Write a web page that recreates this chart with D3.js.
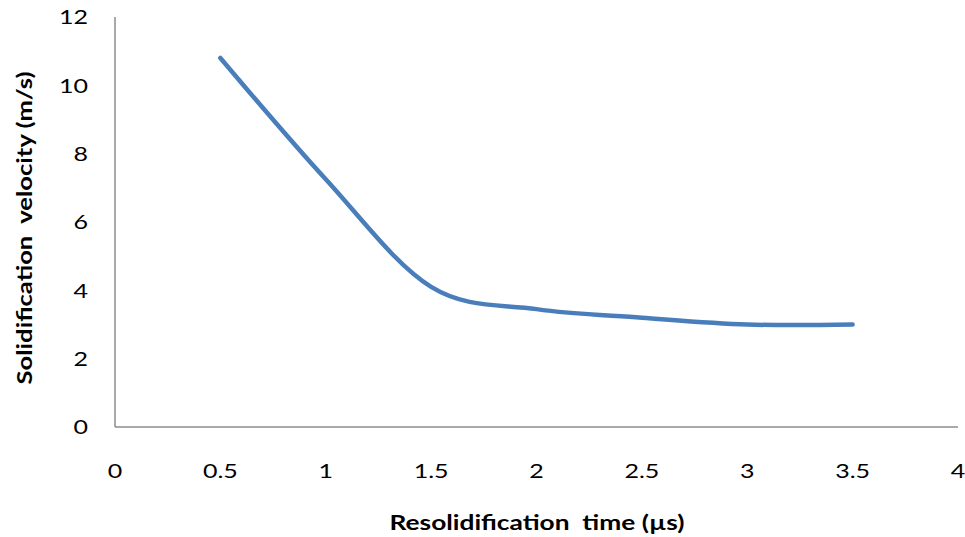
<!DOCTYPE html>
<html>
<head>
<meta charset="utf-8">
<script src="https://cdn.jsdelivr.net/npm/d3@7"></script>
<style>
  body { margin: 0; background: #fff; }
  text { font-family: Lato, "Open Sans", sans-serif; fill: #000; }
</style>
</head>
<body>
<div id="chart"></div>
<script>
var width = 965,
    height = 537;

// data
var times = [0.5, 1, 1.5, 2, 2.5, 3, 3.5];
var velocities = [10.8, 7.25, 4.1, 3.45, 3.2, 3.0, 3.0];
var xTicks = [0, 0.5, 1, 1.5, 2, 2.5, 3, 3.5, 4];
var yTicks = [0, 2, 4, 6, 8, 10, 12];

var svg = d3.select("#chart").append("svg")
    .attr("width", width)
    .attr("height", height);

var x = d3.scaleLinear().domain([0, 4]).range([115, 958]);
var y = d3.scaleLinear().domain([0, 12]).range([427, 17]);

// axis lines
svg.append("line")
    .attr("x1", x(0)).attr("x2", x(0))
    .attr("y1", y(12)).attr("y2", y(0))
    .attr("stroke", "#8c8c8c").attr("stroke-width", 1.5);
svg.append("line")
    .attr("x1", x(0)).attr("x2", x(4))
    .attr("y1", y(0)).attr("y2", y(0))
    .attr("stroke", "#8c8c8c").attr("stroke-width", 1.5);

// tick labels (reference glyphs are a bit wide, so stretch them)
svg.selectAll(".ylab")
    .data(yTicks)
  .enter().append("text")
    .attr("class", "ylab")
    .attr("transform", function(d) { return "translate(88," + y(d) + ") scale(1.25,1)"; })
    .attr("dy", "0.36em")
    .attr("text-anchor", "end")
    .style("font-size", "20px")
    .text(function(d) { return d; });

svg.selectAll(".xlab")
    .data(xTicks)
  .enter().append("text")
    .attr("class", "xlab")
    .attr("transform", function(d) { return "translate(" + x(d) + ",471) scale(1.25,1)"; })
    .attr("dy", "0.36em")
    .attr("text-anchor", "middle")
    .style("font-size", "20px")
    .text(function(d) { return d; });

// the curve (smoothed like the spreadsheet line)
var line = d3.line()
    .x(function(d, i) { return x(times[i]); })
    .y(function(d) { return y(d); })
    .curve(d3.curveCardinal.tension(0));

svg.append("path")
    .datum(velocities)
    .attr("d", line)
    .attr("fill", "none")
    .attr("stroke", "#4a7ebb")
    .attr("stroke-width", 4.5)
    .attr("stroke-linecap", "round");

// axis titles
svg.append("text")
    .attr("x", 537)
    .attr("y", 523)
    .attr("dy", "0.36em")
    .attr("text-anchor", "middle")
    .attr("textLength", 295)
    .attr("lengthAdjust", "spacingAndGlyphs")
    .style("font-size", "20px")
    .style("font-weight", "bold")
    .style("white-space", "pre")
    .text("Resolidification  time (\u00b5s)");

svg.append("text")
    .attr("transform", "translate(25,228) rotate(-90)")
    .attr("dy", "0.36em")
    .attr("text-anchor", "middle")
    .attr("textLength", 313)
    .attr("lengthAdjust", "spacingAndGlyphs")
    .style("font-size", "20px")
    .style("font-weight", "bold")
    .style("white-space", "pre")
    .text("Solidification  velocity (m/s)");
</script>
</body>
</html>
